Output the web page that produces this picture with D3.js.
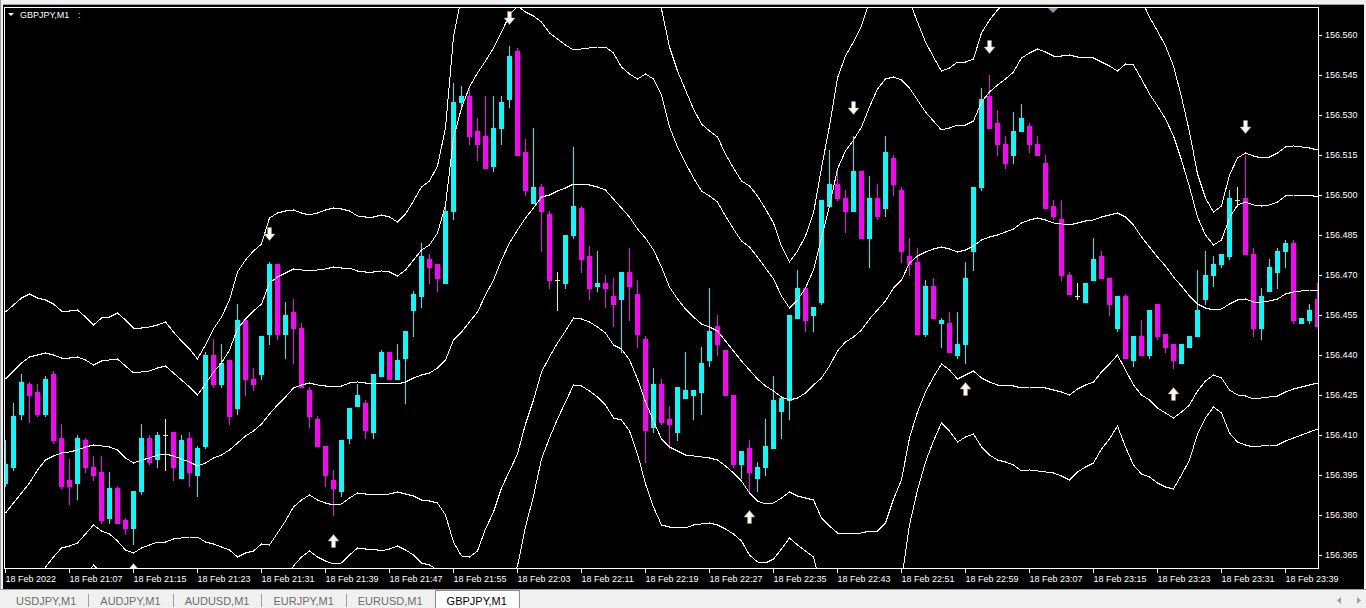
<!DOCTYPE html>
<html><head><meta charset="utf-8">
<script src="https://cdn.jsdelivr.net/npm/d3@7"></script>
<style>
html,body{margin:0;padding:0;background:#000;overflow:hidden}
svg{display:block}
</style></head><body>
<svg id="c" width="1366" height="608"></svg>
<script>
// ---------------- data ----------------
const symbolName = "GBPJPY,M1";
const tabs = ["USDJPY,M1","AUDJPY,M1","AUDUSD,M1","EURJPY,M1","EURUSD,M1","GBPJPY,M1"];
const activeTab = "GBPJPY,M1";
const timeLabels = ["18 Feb 2022","18 Feb 21:07","18 Feb 21:15","18 Feb 21:23","18 Feb 21:31","18 Feb 21:39","18 Feb 21:47","18 Feb 21:55","18 Feb 22:03","18 Feb 22:11","18 Feb 22:19","18 Feb 22:27","18 Feb 22:35","18 Feb 22:43","18 Feb 22:51","18 Feb 22:59","18 Feb 23:07","18 Feb 23:15","18 Feb 23:23","18 Feb 23:31","18 Feb 23:39"];
const timeLabelBars = [0,8,16,24,32,40,48,56,64,72,80,88,96,104,112,120,128,136,144,152,160];
const priceTicks = [156.365,156.380,156.395,156.410,156.425,156.440,156.455,156.470,156.485,156.500,156.515,156.530,156.545,156.560];

const open = [
156.392,156.398,156.418,156.429,156.426,156.418,156.433,156.409,156.393,156.392,
156.408,156.398,156.396,156.379,156.390,156.378,156.375,156.389,156.409,156.401,
156.410,156.411,156.394,156.409,156.395,156.406,156.440,156.429,156.438,156.420,
156.453,156.431,156.433,156.448,156.474,156.448,156.456,156.450,156.427,156.416,
156.406,156.393,156.389,156.409,156.421,156.422,156.411,156.432,156.441,156.431,
156.439,156.457,156.462,156.476,156.474,156.467,156.494,156.535,156.537,156.524,
156.522,156.511,156.525,156.536,156.554,156.516,156.497,156.503,156.493,156.468,
156.467,156.485,156.495,156.477,156.466,156.467,156.462,156.461,156.471,156.463,
156.446,156.413,156.429,156.416,156.411,156.424,156.425,156.426,156.438,156.451,
156.442,156.425,156.399,156.405,156.394,156.398,156.405,156.419,156.423,156.454,
156.465,156.455,156.460,156.496,156.504,156.499,156.494,156.509,156.484,156.499,
156.495,156.514,156.502,156.477,156.475,156.448,156.466,156.452,156.452,156.440,
156.444,156.479,156.503,156.537,156.527,156.519,156.515,156.524,156.526,156.519,
156.512,156.496,156.491,156.470,156.462,156.460,156.468,156.477,156.469,156.450,
156.462,156.438,156.447,156.440,156.459,156.448,156.444,156.437,156.443,156.447,
156.461,156.470,156.474,156.477,156.498,156.499,156.478,156.450,156.464,156.471,
156.479,156.482,156.452,156.453,156.461];
const high = [
156.408,156.422,156.433,156.430,156.429,156.432,156.434,156.414,156.401,156.410,
156.409,156.402,156.402,156.396,156.391,156.379,156.389,156.414,156.410,156.411,
156.416,156.411,156.410,156.411,156.406,156.441,156.446,156.444,156.438,156.459,
156.454,156.435,156.447,156.475,156.474,156.460,156.461,156.452,156.428,156.417,
156.406,156.397,156.408,156.420,156.429,156.423,156.433,156.442,156.441,156.444,
156.449,156.464,156.482,156.478,156.474,156.496,156.542,156.541,156.541,156.529,
156.537,156.537,156.537,156.556,156.555,156.521,156.525,156.504,156.494,156.471,
156.485,156.518,156.496,156.481,156.479,156.470,156.469,156.471,156.480,156.468,
156.447,156.435,156.431,156.421,156.428,156.441,156.427,156.443,156.465,156.455,
156.442,156.425,156.404,156.408,156.400,156.416,156.432,156.424,156.455,156.472,
156.465,156.458,156.498,156.517,156.509,156.502,156.522,156.509,156.507,156.504,
156.522,156.515,156.503,156.484,156.480,156.468,156.469,156.454,156.456,156.456,
156.475,156.503,156.540,156.545,156.532,156.522,156.531,156.534,156.527,156.522,
156.515,156.498,156.498,156.471,156.467,156.467,156.484,156.479,156.469,156.462,
156.463,156.447,156.453,156.457,156.459,156.448,156.444,156.444,156.447,156.472,
156.479,156.477,156.478,156.502,156.503,156.515,156.480,156.465,156.476,156.480,
156.483,156.483,156.454,156.459,156.467];
const low = [
156.391,156.397,156.416,156.415,156.417,156.417,156.407,156.390,156.384,156.386,
156.396,156.393,156.377,156.377,156.377,156.373,156.369,156.388,156.399,156.398,
156.397,156.393,156.394,156.391,156.387,156.405,156.428,156.428,156.414,156.418,
156.425,156.427,156.431,156.444,156.446,156.439,156.437,156.428,156.413,156.406,
156.391,156.380,156.387,156.407,156.421,156.409,156.409,156.432,156.431,156.431,
156.422,156.447,156.458,156.467,156.464,156.467,156.491,156.533,156.519,156.513,
156.510,156.509,156.519,156.533,156.515,156.500,156.497,156.479,156.465,156.457,
156.465,156.484,156.471,156.461,156.464,156.458,156.451,156.441,156.453,156.443,
156.400,156.411,156.414,156.405,156.408,156.424,156.416,156.418,156.436,156.440,
156.425,156.398,156.394,156.389,156.389,156.395,156.405,156.409,156.416,156.454,
156.449,156.449,156.459,156.496,156.498,156.486,156.494,156.484,156.473,156.491,
156.492,156.500,156.475,156.470,156.448,156.447,156.454,156.443,156.441,156.439,
156.437,156.472,156.502,156.525,156.515,156.510,156.512,156.524,156.516,156.515,
156.495,156.491,156.468,156.463,156.461,156.460,156.468,156.469,156.455,156.449,
156.439,156.436,156.440,156.439,156.446,156.441,156.435,156.437,156.443,156.447,
156.459,156.466,156.473,156.476,156.496,156.478,156.447,156.446,156.464,156.465,
156.473,156.452,156.452,156.452,156.451];
const close = [
156.399,156.417,156.430,156.425,156.418,156.431,156.408,156.391,156.391,156.409,
156.398,156.395,156.378,156.390,156.377,156.375,156.389,156.409,156.400,156.410,
156.410,156.398,156.408,156.396,156.405,156.440,156.429,156.437,156.417,156.453,
156.431,156.429,156.447,156.474,156.448,156.455,156.450,156.428,156.417,156.406,
156.395,156.390,156.408,156.420,156.425,156.412,156.433,156.441,156.431,156.438,
156.449,156.463,156.477,156.473,156.469,156.494,156.535,156.537,156.522,156.519,
156.510,156.525,156.535,156.552,156.515,156.502,156.503,156.494,156.468,156.468,
156.485,156.496,156.476,156.465,156.467,156.465,156.459,156.471,156.466,156.448,
156.412,156.429,156.415,156.414,156.428,156.427,156.427,156.437,156.449,156.444,
156.425,156.399,156.404,156.396,156.398,156.406,156.423,156.424,156.455,156.465,
156.453,156.458,156.498,156.504,156.499,156.494,156.509,156.484,156.499,156.492,
156.516,156.504,156.479,156.474,156.448,156.466,156.454,156.453,156.441,156.444,
156.469,156.503,156.536,156.525,156.519,156.512,156.524,156.529,156.519,156.515,
156.495,156.492,156.470,156.463,156.462,156.467,156.476,156.469,156.459,156.462,
156.439,156.447,156.440,156.457,156.447,156.443,156.438,156.444,156.447,156.457,
156.470,156.474,156.478,156.499,156.498,156.478,156.450,156.462,156.473,156.479,
156.482,156.453,156.454,156.457,156.451];

// Bollinger middle line and inner-band half width
const bbMiddle = [
156.3807,156.3845,156.3882,156.3920,156.3968,156.4006,156.4021,156.4032,156.4036,156.4044,
156.4055,156.4062,156.4059,156.4055,156.4044,156.4014,156.3995,156.4006,156.4014,156.4025,
156.4029,156.4021,156.4010,156.3999,156.3984,156.3995,156.4014,156.4025,156.4044,156.4070,
156.4096,156.4115,156.4141,156.4179,156.4212,156.4242,156.4276,156.4287,156.4295,156.4287,
156.4284,156.4284,156.4284,156.4295,156.4299,156.4295,156.4295,156.4295,156.4295,156.4291,
156.4299,156.4314,156.4325,156.4332,156.4351,156.4381,156.4456,156.4486,156.4524,156.4561,
156.4625,156.4681,156.4756,156.4820,156.4868,156.4913,156.4951,156.4992,156.5000,156.5015,
156.5026,156.5041,156.5041,156.5037,156.5030,156.5018,156.4985,156.4951,156.4917,156.4872,
156.4838,156.4793,156.4730,156.4655,156.4610,156.4572,156.4542,156.4516,156.4505,156.4490,
156.4452,156.4415,156.4377,156.4343,156.4310,156.4284,156.4265,156.4242,156.4231,156.4238,
156.4257,156.4287,156.4314,156.4358,156.4415,156.4448,156.4467,156.4493,156.4535,156.4568,
156.4602,156.4651,156.4681,156.4745,156.4771,156.4786,156.4797,156.4805,156.4797,156.4786,
156.4794,156.4808,156.4831,156.4842,156.4850,156.4861,156.4872,156.4895,156.4906,156.4914,
156.4906,156.4895,156.4891,156.4887,156.4895,156.4902,156.4906,156.4917,156.4925,156.4932,
156.4917,156.4887,156.4842,156.4805,156.4767,156.4733,156.4692,156.4658,156.4621,156.4591,
156.4576,156.4569,156.4572,156.4591,156.4606,156.4610,156.4599,156.4599,156.4602,156.4610,
156.4628,156.4636,156.4640,156.4644,156.4644];
const bbHalfWidth = [
0.0503,0.0495,0.0488,0.0473,0.0431,0.0401,0.0379,0.0356,0.0353,0.0349,
0.0326,0.0300,0.0319,0.0326,0.0341,0.0345,0.0338,0.0330,0.0326,0.0326,
0.0330,0.0311,0.0296,0.0281,0.0266,0.0296,0.0323,0.0345,0.0375,0.0428,
0.0439,0.0450,0.0450,0.0491,0.0480,0.0465,0.0446,0.0431,0.0420,0.0431,
0.0439,0.0446,0.0443,0.0431,0.0416,0.0416,0.0416,0.0420,0.0416,0.0405,
0.0420,0.0443,0.0469,0.0480,0.0506,0.0581,0.0758,0.0840,0.0881,0.0896,
0.0878,0.0870,0.0855,0.0855,0.0840,0.0773,0.0720,0.0656,0.0608,0.0570,
0.0536,0.0503,0.0506,0.0514,0.0525,0.0536,0.0548,0.0529,0.0536,0.0563,
0.0615,0.0641,0.0645,0.0600,0.0570,0.0548,0.0521,0.0499,0.0491,0.0484,
0.0469,0.0458,0.0450,0.0461,0.0458,0.0443,0.0420,0.0379,0.0345,0.0368,
0.0394,0.0431,0.0525,0.0600,0.0683,0.0716,0.0739,0.0761,0.0795,0.0829,
0.0833,0.0791,0.0750,0.0656,0.0585,0.0525,0.0480,0.0439,0.0454,0.0476,
0.0469,0.0469,0.0518,0.0544,0.0563,0.0574,0.0589,0.0619,0.0626,0.0634,
0.0630,0.0626,0.0630,0.0638,0.0623,0.0615,0.0608,0.0581,0.0559,0.0533,
0.0574,0.0600,0.0593,0.0574,0.0566,0.0551,0.0529,0.0473,0.0409,0.0326,
0.0274,0.0244,0.0259,0.0323,0.0356,0.0364,0.0364,0.0360,0.0360,0.0364,
0.0368,0.0364,0.0360,0.0356,0.0349];
const bandFactors = [0, 1, -1, 1.5, -1.5];   // inner bands (2 dev) and outer bands (3 dev)
const sellSignals = [33, 63, 106, 123, 155];
const buySignals = [16, 41, 93, 120, 146];

// ---------------- drawing ----------------
const W = 1366, H = 608;
const P = {left: 4, right: 1318, top: 7, bottom: 568};
const svg = d3.select("#c");
const FONT = "'Liberation Sans', Arial, sans-serif";

svg.append("rect").attr("width", W).attr("height", H).attr("fill", "#000");
// window chrome
svg.append("rect").attr("x",0).attr("y",0).attr("width",W).attr("height",4).attr("fill","#f0f0f0");
svg.append("rect").attr("x",0).attr("y",4).attr("width",W).attr("height",1).attr("fill","#a0a0a0");
svg.append("rect").attr("x",0).attr("y",0).attr("width",1).attr("height",590).attr("fill","#a0a0a0");
svg.append("rect").attr("x",1).attr("y",0).attr("width",2).attr("height",590).attr("fill","#f0f0f0");
svg.append("rect").attr("x",1364).attr("y",0).attr("width",2).attr("height",590).attr("fill","#f0f0f0");

const n = close.length;
const x = d3.scaleLinear().domain([0, n - 1]).range([5.5, 1317.5]);
const y = d3.scaleLinear().domain([156.3601, 156.5705]).range([568, 7]).interpolate(d3.interpolateRound);

svg.append("defs").append("clipPath").attr("id", "pc")
  .append("rect").attr("x", P.left + 1).attr("y", P.top + 1)
  .attr("width", P.right - P.left - 1).attr("height", P.bottom - P.top - 1);

const plotG = svg.append("g").attr("clip-path", "url(#pc)").attr("shape-rendering", "crispEdges");

// candles
const idx = d3.range(n);
const colorOf = i => close[i] > open[i] ? "#00ffff" : (close[i] < open[i] ? "#ff00ff" : "#ffff00");
const cg = plotG.append("g");
cg.selectAll("rect.wick").data(idx).join("rect").attr("class","wick")
  .attr("x", i => x(i) - 0.5).attr("width", 1)
  .attr("y", i => y(high[i])).attr("height", i => y(low[i]) - y(high[i]) + 1)
  .attr("fill", colorOf);
cg.selectAll("rect.body").data(idx).join("rect").attr("class","body")
  .attr("x", i => x(i) - 2.5).attr("width", 5)
  .attr("y", i => y(Math.max(open[i], close[i])))
  .attr("height", i => y(Math.min(open[i], close[i])) - y(Math.max(open[i], close[i])) + 1)
  .attr("fill", colorOf);

// bollinger bands
const line = d3.line().x((d, i) => x(i)).y(d => y(d));
plotG.selectAll("path.band").data(bandFactors).join("path").attr("class","band")
  .attr("d", f => line(bbMiddle.map((m, i) => m + f * bbHalfWidth[i])))
  .attr("fill", "none").attr("stroke", "#ffffff").attr("stroke-width", 1);

// signal arrows
const downArrow = (cx, cy) => `M${cx-2},${cy-6.5}H${cx+2}V${cy}H${cx+5.5}L${cx},${cy+6.5}L${cx-5.5},${cy}H${cx-2}Z`;
const upArrow = (cx, cy) => `M${cx-2},${cy+6.5}H${cx+2}V${cy}H${cx+5.5}L${cx},${cy-6.5}L${cx-5.5},${cy}H${cx-2}Z`;
const ag = svg.append("g").attr("clip-path", "url(#pc)");
ag.selectAll("path.sell").data(sellSignals).join("path").attr("class","sell")
  .attr("d", i => downArrow(x(i), y(high[i]) - 28)).attr("fill", "#ffffff")
  .attr("stroke", "#b8864a").attr("stroke-width", 0.5);
ag.selectAll("path.buy").data(buySignals).join("path").attr("class","buy")
  .attr("d", i => upArrow(x(i), y(low[i]) + 26)).attr("fill", "#ffffff")
  .attr("stroke", "#b8864a").attr("stroke-width", 0.5);

// frame
svg.append("rect").attr("x", P.left + 0.5).attr("y", P.top + 0.5)
  .attr("width", P.right - P.left).attr("height", P.bottom - P.top)
  .attr("fill", "none").attr("stroke", "#ffffff").attr("shape-rendering", "crispEdges");

// chart shift marker
svg.append("path").attr("d", "M1048,8H1058L1053,13Z").attr("fill", "#8796a4");

// price axis
const yAxis = d3.axisRight(y).tickValues(priceTicks).tickSize(4).tickPadding(3)
  .tickFormat(d3.format(".3f")).offset(0.5);
const yg = svg.append("g").attr("transform", `translate(${P.right},0)`).call(yAxis);
yg.select(".domain").remove();
yg.selectAll("line").attr("stroke", "#ffffff").attr("shape-rendering", "crispEdges");
yg.selectAll("text").attr("fill", "#ffffff").style("font-family", FONT).style("font-size", "9px");

// time axis
const xAxis = d3.axisBottom(x).tickValues(timeLabelBars).tickSize(4).tickPadding(3)
  .tickFormat((d, i) => timeLabels[i]).offset(0);
const xg = svg.append("g").attr("transform", `translate(0,${P.bottom + 0.5})`).call(xAxis);
xg.select(".domain").remove();
xg.selectAll("line").attr("stroke", "#ffffff").attr("shape-rendering", "crispEdges");
xg.selectAll("text").attr("fill", "#ffffff").attr("text-anchor", "start").attr("x", 0)
  .style("font-family", FONT).style("font-size", "9px");

// symbol label
svg.append("path").attr("d", "M8,13H14L11,16Z").attr("fill", "#ffffff");
svg.append("text").attr("x", 20).attr("y", 18).text(symbolName)
  .attr("fill", "#ffffff").style("font-family", FONT).style("font-size", "9px");
svg.append("text").attr("x", 78).attr("y", 18).text(":")
  .attr("fill", "#ffffff").style("font-family", FONT).style("font-size", "9px");

// tab bar
svg.append("rect").attr("x", 0).attr("y", 589).attr("width", W).attr("height", 19).attr("fill", "#f0f0f0");
svg.append("rect").attr("x", 0).attr("y", 589).attr("width", W).attr("height", 1).attr("fill", "#a0a0a0");
const tg = svg.append("g");
let tx = 4;
tabs.forEach((t, i) => {
  const active = t === activeTab;
  const txt = tg.append("text").text(t).attr("y", 605)
    .style("font-family", FONT).style("font-size", "11px")
    .attr("fill", active ? "#000000" : "#6d6d6d").attr("text-anchor", "middle");
  const w = txt.node().getComputedTextLength() + 24;
  if (active) {
    tg.insert("rect", "text").attr("x", tx + 0.5).attr("y", 590.5).attr("width", w).attr("height", 18)
      .attr("fill", "#ffffff").attr("stroke", "#8c8c8c").attr("shape-rendering", "crispEdges");
  } else if (i < tabs.length - 1 && tabs[i + 1] !== activeTab) {
    tg.append("rect").attr("x", Math.round(tx + w)).attr("y", 594).attr("width", 1).attr("height", 13).attr("fill", "#a0a0a0");
  }
  txt.attr("x", tx + w / 2);
  tx += w;
});
// scroll arrows
svg.append("path").attr("d", "M1341,597V604L1337,600.5Z").attr("fill", "#a0a0a0");
svg.append("path").attr("d", "M1357,597V604L1361,600.5Z").attr("fill", "#a0a0a0");
</script>
</body></html>
